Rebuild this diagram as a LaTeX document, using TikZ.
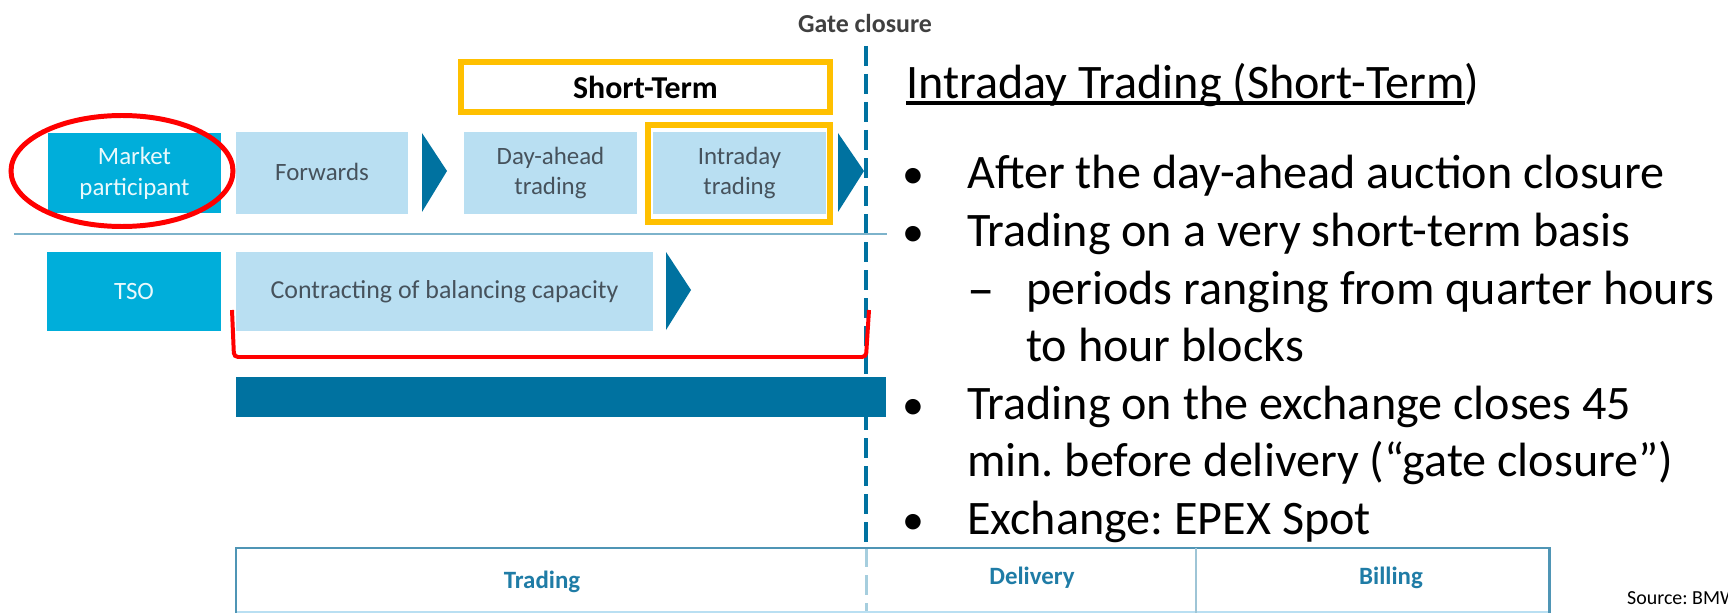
\documentclass[tikz,border=0pt]{standalone}
\usepackage{fontspec}
\setmainfont{Carlito}
\definecolor{cyanbox}{HTML}{00AEDA}
\definecolor{lightbox}{HTML}{B9DFF2}
\definecolor{darkblue}{HTML}{0072A0}
\definecolor{orangeedge}{HTML}{FFC000}
\definecolor{rededge}{HTML}{FF0000}
\definecolor{greytext}{HTML}{46525C}
\definecolor{ruleblue}{HTML}{7DB3CB}
\definecolor{frameblue}{HTML}{4F95B5}
\definecolor{headblue}{HTML}{1F7CA6}
\tikzset{
  box/.style={inner sep=0pt,outer sep=0pt,anchor=north west,align=center,font=\fontsize{25}{30}\selectfont},
  actor/.style={box,fill=cyanbox,text=white!92!cyanbox},
  stage/.style={box,fill=lightbox,text=greytext},
  orangebox/.style={draw=orangeedge,line width=5.5pt,inner sep=0pt,outer sep=0pt,anchor=north west},
  head/.style={font=\bfseries\fontsize{25}{30}\selectfont,text=headblue,inner sep=0pt},
  bodyline/.style={anchor=base west,inner sep=0pt,font=\fontsize{48.3}{57}\selectfont\frenchspacing,text=black},
  bulletmark/.style={anchor=base west,inner sep=0pt,font=\fontsize{44}{57}\selectfont,text=black},
  dashmark/.style={anchor=base west,inner sep=0pt,font=\fontsize{55}{60}\selectfont,text=black},
  chevron/.style={fill=darkblue,draw=none},
}
\newcommand{\ruledtext}[1]{\setbox0\hbox{#1}\rlap{\rule[-6.5bp]{\wd0}{3.5bp}}\box0}
\begin{document}
\begin{tikzpicture}[x=1bp,y=-1bp]
\useasboundingbox (0,0) rectangle (1728,613);
\fill[white] (0,0) rectangle (1728,613);

% gate closure dashed line
\node[inner sep=0pt,font=\bfseries\fontsize{26}{30}\selectfont,text=black!75] (gate) at (865,24) {Gate closure};
\coordinate (gtop) at (866,46);
\coordinate (gmid) at (866,547);
\coordinate (gbot) at (866,613);
\draw[darkblue,line width=3.8pt,dash pattern=on 20bp off 8bp] (gtop) -- (gmid);
\draw[darkblue!35,line width=3pt,dash pattern=on 20bp off 8bp] (gmid) -- (gbot);

% rows
\node[actor,minimum width=173bp,minimum height=80bp] (mp) at (48,133) {Market\\[1pt]participant};
\node[stage,minimum width=172bp,minimum height=82bp] (fw) at (236,132) {\raisebox{1.5bp}{Forwards}};
\node[stage,minimum width=173bp,minimum height=82bp] (da) at (464,132) {Day-ahead\\[1pt]trading};
\node[stage,minimum width=173bp,minimum height=82bp] (id) at (653,132) {Intraday\\[1pt]trading};
\fill[chevron] (422,133) -- (447,171) -- (422,212) -- cycle;
\fill[chevron] (838,133) -- (864,171) -- (838,212) -- cycle;

\draw[ruleblue,line width=3pt] (14,234) -- (887,234);

\node[actor,minimum width=174bp,minimum height=79bp] (tso) at (47,252) {TSO};
\node[stage,minimum width=417bp,minimum height=79bp,font=\fontsize{26}{30}\selectfont] (cb) at (236,252) {Contracting of balancing capacity};
\fill[chevron] (666,252) -- (691,290) -- (666,330) -- cycle;

% dark bar
\fill[darkblue] (236,377) rectangle (886,417);

% bottom table
\coordinate (tl) at (236,548);
\coordinate (tr) at (1549,548);
\draw[lightbox,line width=2.5pt] (236,612) -- (1549,612);
\draw[frameblue,line width=3pt] (236,614) -- (tl) -- (tr) -- (1549,614);
\draw[frameblue!55,line width=2.5pt] (1196,548) -- (1196,613);
\node[head] (trading) at (542,582) {Trading};
\node[head] (delivery) at (1032,578) {Delivery};
\node[head] (billing) at (1391,578) {Billing};

% highlights
\node[orangebox,minimum width=369bp,minimum height=50bp,font=\bfseries\fontsize{32}{36}\selectfont] (st) at (461,62) {\raisebox{-3bp}{Short-Term}};
\node[orangebox,minimum width=182bp,minimum height=97bp] (idh) at (648,125) {};
\draw[rededge,line width=5pt] (122,171) ellipse [x radius=111,y radius=55.5];
\draw[rededge,line width=4pt,rounded corners=4bp] (232,310) -- (234,357) -- (866,357) -- (869,310);

% right text
\node[bodyline] (title) at (906,98.5) {\ruledtext{Intraday Trading (Short-Term})};
\node[bulletmark] (b1) at (902,189) {•};
\node[bodyline] (l1) at (967,189) {After the day-ahead auction closure};
\node[bulletmark] (b2) at (902,247) {•};
\node[bodyline] (l2) at (967,247) {Trading on a very short-term basis};
\node[dashmark] (d1) at (967,307) {–};
\node[bodyline] (l3) at (1026,304) {periods ranging from quarter hours};
\node[bodyline] (l4) at (1026,361) {to hour blocks};
\node[bulletmark] (b3) at (902,419) {•};
\node[bodyline] (l5) at (967,419) {Trading on the exchange closes 45};
\node[bodyline] (l6) at (967,476) {min. before delivery (“gate closure”)};
\node[bulletmark] (b4) at (902,534) {•};
\node[bodyline] (l7) at (967,534) {Exchange: EPEX Spot};

\node[anchor=base west,inner sep=0pt,font=\fontsize{20}{24}\selectfont\frenchspacing] (src) at (1627,604) {Source: BMWi};
\end{tikzpicture}
\end{document}
